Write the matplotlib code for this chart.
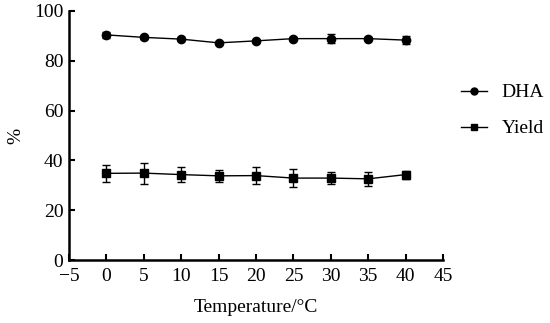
import numpy as np
import matplotlib.pyplot as plt
from matplotlib.lines import Line2D

# -----------------------------
# Data
# -----------------------------
temperature = [0, 5, 10, 15, 20, 25, 30, 35, 40]

dha = [90.4, 89.4, 88.7, 87.2, 88.0, 88.9, 88.9, 88.9, 88.3]
dha_err = [1.2, 0.5, 0.5, 0.4, 0.5, 0.5, 1.8, 0.5, 1.5]

yield_ = [34.8, 34.9, 34.3, 33.8, 33.9, 32.9, 32.9, 32.6, 34.3]
yield_err = [3.3, 4.2, 3.0, 2.3, 3.5, 3.7, 2.4, 2.8, 1.6]

x_ticks = [-5, 0, 5, 10, 15, 20, 25, 30, 35, 40, 45]
y_ticks = [0, 20, 40, 60, 80, 100]

# -----------------------------
# Plot
# -----------------------------
plt.rcParams['font.family'] = ['Liberation Serif', 'DejaVu Serif']

fig = plt.figure(figsize=(5.5, 3.23), dpi=100)
ax = fig.add_axes([0.1255, 0.195, 0.68, 0.771])

ax.errorbar(temperature, dha, yerr=dha_err, color='black', marker='o',
            markersize=6, linewidth=1, elinewidth=1, capsize=3)
ax.errorbar(temperature, yield_, yerr=yield_err, color='black', marker='s',
            markersize=6, linewidth=1, elinewidth=1, capsize=3)

ax.set_xlim(-5, 45)
ax.set_ylim(0, 100)
ax.set_xticks(x_ticks)
ax.set_xticklabels([str(t).replace('-', '\u2212') for t in x_ticks])
ax.set_yticks(y_ticks)

for side in ['top', 'right']:
    ax.spines[side].set_visible(False)
for side in ['left', 'bottom']:
    ax.spines[side].set_linewidth(1.8)

ax.tick_params(direction='in', length=4, width=1.5, labelsize=14)
ax.tick_params(axis='x', pad=6)
ax.tick_params(axis='y', pad=4)

ax.set_xlabel('Temperature/°C', fontsize=14, labelpad=10)
ax.set_ylabel('%', fontsize=14)
ax.yaxis.set_label_coords(-0.12, 0.5)

handles = [
    Line2D([], [], color='black', marker='o', markersize=5, linewidth=1),
    Line2D([], [], color='black', marker='s', markersize=5, linewidth=1),
]
ax.legend(handles, ['DHA', 'Yield'], loc='center left',
          bbox_to_anchor=(1.0, 0.60), frameon=False, fontsize=14,
          handlelength=1.35, handletextpad=0.75, labelspacing=0.95)

plt.savefig("out.png", dpi=100)
